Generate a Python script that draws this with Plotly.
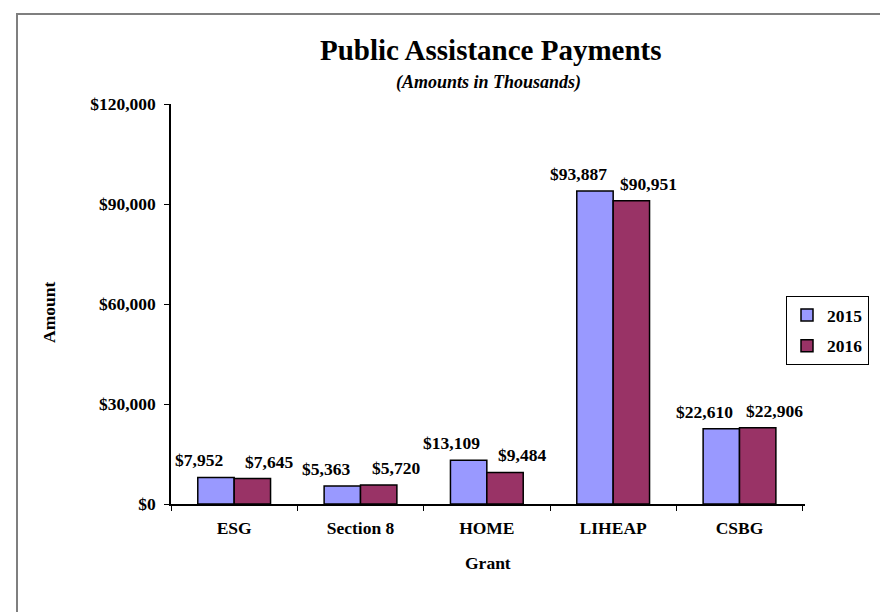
import plotly.graph_objects as go

categories = ["ESG", "Section 8", "HOME", "LIHEAP", "CSBG"]
series_names = ["2015", "2016"]
values_2015 = [7952, 5363, 13109, 93887, 22610]
values_2016 = [7645, 5720, 9484, 90951, 22906]
y_ticks = [0, 30000, 60000, 90000, 120000]

FONT = "Liberation Serif, Times New Roman, serif"
colors = ["#9999FF", "#993366"]

W, H = 888, 612
L, R, T, B = 163, 797, 96, 496  # plot area in pixels


def px_x(p):
    return (p - L) / (R - L)


def px_y(p):
    return (B - p) / (B - T)


fig = go.Figure()
for name, vals, col in zip(series_names, [values_2015, values_2016], colors):
    fig.add_trace(go.Bar(
        name=name, x=categories, y=vals, legendgroup=name,
        marker=dict(color=col, line=dict(color="black", width=1.5)),
        hoverinfo="skip",
    ))

annotations = []
for vals, shift in [(values_2015, -35), (values_2016, 35)]:
    for c, v in zip(categories, vals):
        annotations.append(dict(
            x=c, y=v, xref="x", yref="y", text=f"<b>${v:,}</b>",
            showarrow=False, xshift=shift, yshift=5, yanchor="bottom", xanchor="center",
            font=dict(family=FONT, size=17.5, color="black"),
        ))

annotations += [
    dict(x=px_x(483), y=px_y(42), xref="paper", yref="paper",
         text="<b>Public Assistance Payments</b>", showarrow=False,
         xanchor="center", yanchor="middle",
         font=dict(family=FONT, size=29, color="black")),
    dict(x=px_x(480), y=px_y(74), xref="paper", yref="paper",
         text="<b><i>(Amounts in Thousands)</i></b>", showarrow=False,
         xanchor="center", yanchor="middle",
         font=dict(family=FONT, size=18, color="black")),
    dict(x=px_x(41), y=px_y(305), xref="paper", yref="paper",
         text="<b>Amount</b>", showarrow=False, textangle=-90,
         xanchor="center", yanchor="middle",
         font=dict(family=FONT, size=17.5, color="black")),
    dict(x=px_x(480), y=px_y(555), xref="paper", yref="paper",
         text="<b>Grant</b>", showarrow=False,
         xanchor="center", yanchor="middle",
         font=dict(family=FONT, size=17.5, color="black")),
]

shapes = [dict(type="rect", xref="paper", yref="paper",
               x0=px_x(9), x1=px_x(900), y0=px_y(6), y1=px_y(625),
               line=dict(color="#7f7f7f", width=2), fillcolor="rgba(0,0,0,0)",
               layer="below")]

fig.update_layout(
    width=W, height=H,
    margin=dict(l=L, r=W - R, t=T, b=H - B, pad=0),
    paper_bgcolor="white", plot_bgcolor="white",
    barmode="group", bargap=0.424, bargroupgap=0,
    font=dict(family=FONT, size=17, color="black"),
    showlegend=True,
    legend=dict(x=px_x(778), y=px_y(288), xanchor="left", yanchor="top",
                bordercolor="black", borderwidth=1, bgcolor="white",
                font=dict(family=FONT, size=17.5, color="black", weight="bold"),
                itemwidth=30, tracegroupgap=5),
    annotations=annotations,
    shapes=shapes,
    hovermode=False,
)

fig.update_xaxes(
    showline=True, linecolor="black", linewidth=2, mirror=False,
    ticks="outside", ticklen=5, tickcolor="black", tickwidth=1,
    tickson="boundaries", showgrid=False, ticklabelstandoff=7,
    tickfont=dict(family=FONT, size=17.5, color="black", weight="bold"),
)
fig.update_yaxes(
    range=[0, 120000], tickvals=y_ticks,
    ticktext=[f"${v:,}" for v in y_ticks],
    showline=True, linecolor="black", linewidth=1.5,
    ticks="outside", ticklen=5, tickcolor="black", tickwidth=1,
    showgrid=False, zeroline=False, ticklabelstandoff=5,
    tickfont=dict(family=FONT, size=17.5, color="black", weight="bold"),
)

fig.write_html("out.html")
